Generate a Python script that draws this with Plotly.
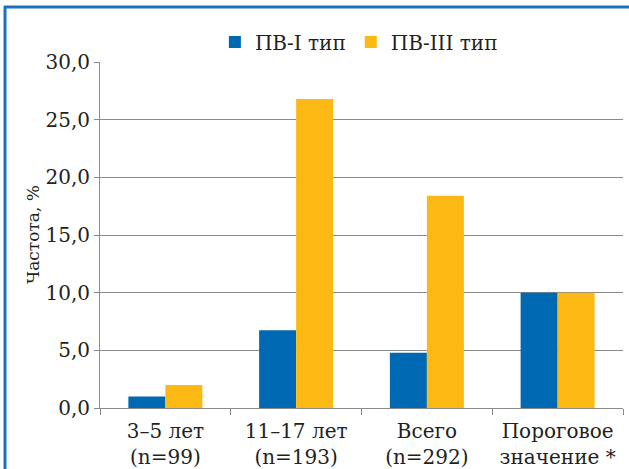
import plotly.graph_objects as go

# Data
categories = ["3–5 лет<br>(n=99)", "11–17 лет<br>(n=193)", "Всего<br>(n=292)", "Пороговое<br>значение *"]
type1_values = [1.0, 6.75, 4.8, 10.0]
type3_values = [2.0, 26.8, 18.4, 10.0]
series_names = ["ПВ-I тип", "ПВ-III тип"]
y_ticks = [0, 5, 10, 15, 20, 25, 30]

BLUE = "#0069b4"
YELLOW = "#fdb913"
FRAME = "#1a73c1"
GRID = "#8a8a8a"
TEXT = "#231f20"
FONT = "DejaVu Serif"

W, H = 629, 469
ML, MR, MT, MB = 100, 6, 62, 61
PW, PH = W - ML - MR, H - MT - MB

fig = go.Figure()
fig.add_trace(go.Bar(x=categories, y=type1_values, name=series_names[0],
                     marker=dict(color=BLUE, line=dict(width=0))))
fig.add_trace(go.Bar(x=categories, y=type3_values, name=series_names[1],
                     marker=dict(color=YELLOW, line=dict(width=0))))


def px_x(p):
    return (p - ML) / PW


def px_y(p):
    return (H - MB - p) / PH


fig.update_layout(
    width=W, height=H,
    margin=dict(l=ML, r=MR, t=MT, b=MB, pad=0, autoexpand=False),
    paper_bgcolor="white", plot_bgcolor="white",
    barmode="group", bargap=0.434, bargroupgap=0,
    separators=", ",
    font=dict(family=FONT, size=19, color=TEXT),
    showlegend=True,
    legend=dict(orientation="h", x=0.495, xanchor="center", y=px_y(42), yanchor="middle",
                font=dict(family=FONT, size=20, color=TEXT), bgcolor="rgba(0,0,0,0)",
                traceorder="normal"),
    xaxis=dict(showline=True, linecolor=GRID, linewidth=1,
               ticks="outside", tickson="boundaries", ticklen=6, tickcolor=GRID,
               ticklabelstandoff=5, automargin=False,
               tickfont=dict(family=FONT, size=20, color=TEXT), showgrid=False,
               fixedrange=True),
    yaxis=dict(range=[0, 30], tickvals=y_ticks, tickformat=".1f",
               showline=True, linecolor=GRID, linewidth=1,
               ticks="outside", ticklen=5, tickcolor=GRID,
               showgrid=True, gridcolor=GRID, gridwidth=1,
               zeroline=False, automargin=False,
               tickfont=dict(family=FONT, size=20, color=TEXT)),
    annotations=[dict(text="Частота, %", textangle=-90, xref="paper", yref="paper",
                      x=px_x(33), y=px_y(235), xanchor="center", yanchor="middle",
                      showarrow=False, font=dict(family=FONT, size=17, color=TEXT))],
    shapes=[
        dict(type="line", xref="paper", yref="paper", x0=px_x(5), x1=px_x(5),
             y0=px_y(6), y1=px_y(469), line=dict(color=FRAME, width=3)),
        dict(type="line", xref="paper", yref="paper", x0=px_x(4), x1=px_x(629),
             y0=px_y(7), y1=px_y(7), line=dict(color=FRAME, width=3)),
    ],
)

fig.write_html("out.html")
